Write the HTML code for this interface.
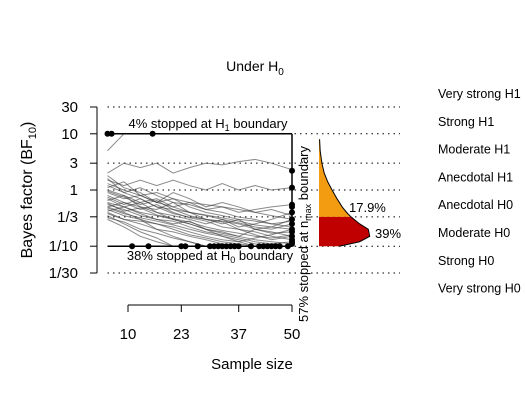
<!DOCTYPE html>
<html><head><meta charset="utf-8"><style>
body{margin:0;background:#fff}
svg text{font-family:"Liberation Sans",Arial,sans-serif;fill:#000}
</style></head><body>
<svg id="c" width="525" height="400">
<text x="255" y="71" font-size="14" text-anchor="middle">Under H<tspan font-size="10" dy="4">0</tspan></text>
<g id="grid"></g><g id="lines"></g><g id="marks"></g><g id="axes"></g><g id="dens"></g><g id="legend"></g>
</svg>
<script>
const yTicks=[30,10,3,1,1/3,1/10,1/30];
const yTickLabels=["30","10","3","1","1/3","1/10","1/30"];
const xTicks=[10,23,37,50];
const nGrid=[5,9,13,17,21,25,29,33,37,41,45,50];
const traj1=[5,10];
const traj2=[2,3,2.5,3,2,2.5,3,2.8,3.2,3.5,3,2.3];
const traj3=[1.5,1.2,1.5,1.2,1.5,1.2,1,1.3,1,1.2,1,1.1];
const traj4=[1,0.8,0.6,0.7,0.5,0.6,0.45,0.5,0.4,0.45,0.5,0.55];
const traj5=[0.8,0.6,0.5,0.4,0.35,0.3,0.25,0.3,0.22,0.25,0.3,0.4];
const traj6=[0.6,0.5,0.4,0.35,0.3,0.25,0.2,0.18,0.15,0.2,0.22,0.3];
const traj7=[0.5,0.4,0.3,0.25,0.22,0.18,0.15,0.13,0.12,0.14,0.16,0.2];
const traj8=[0.4,0.3,0.25,0.2,0.15,0.12,0.1];
const traj9=[0.7,0.5,0.6,0.4,0.3,0.25,0.2,0.15,0.12,0.1];
const traj10=[0.35,0.25,0.18,0.14,0.1];
const traj11=[1.2,0.9,0.7,0.5,0.45,0.35,0.3,0.28,0.25,0.2,0.18,0.15];
const traj12=[0.9,0.7,0.8,0.6,0.5,0.4,0.35,0.3,0.26,0.22,0.2,0.25];
const traj13=[0.3,0.22,0.15,0.12,0.1];
const traj14=[0.45,0.35,0.3,0.2,0.18,0.15,0.13,0.11,0.1];
const traj15=[1.3,1,0.8,0.9,0.7,0.6,0.55,0.5,0.45,0.4,0.35,0.3];
const traj16=[0.55,0.45,0.35,0.3,0.28,0.22,0.18,0.16,0.14,0.12,0.11,0.12];
const traj17=[1.8,1.1,0.9,0.6,0.7,0.5,0.4,0.35,0.3,0.28,0.25,0.22];
const traj18=[0.65,0.8,0.5,0.45,0.6,0.4,0.3,0.25,0.3,0.2,0.17,0.18];
const traj19=[0.5,0.6,0.45,0.55,0.4,0.32,0.28,0.22,0.2,0.16,0.13,0.15];
const traj20=[1.1,1.4,0.8,0.6,0.9,0.7,0.5,0.6,0.5,0.4,0.45,0.35];
const traj21=[0.42,0.5,0.38,0.3,0.25,0.28,0.2,0.17,0.15,0.13,0.12,0.11];
const traj22=[0.75,0.55,0.7,0.5,0.38,0.33,0.3,0.27,0.2,0.18,0.15,0.13];
const traj23=[0.38,0.3,0.28,0.25,0.2,0.16,0.14,0.12,0.11,0.1];
const traj24=[1.6,0.9,1.1,0.8,0.6,0.55,0.45,0.4,0.33,0.3,0.25,0.28];
const traj25=[0.58,0.42,0.48,0.36,0.31,0.27,0.22,0.19,0.17,0.15,0.14,0.16];
const traj26=[0.32,0.27,0.2,0.17,0.14,0.12,0.1];
const traj27=[0.95,0.75,0.55,0.65,0.45,0.4,0.36,0.32,0.28,0.24,0.22,0.2];
const traj28=[0.48,0.38,0.32,0.28,0.24,0.2,0.17,0.15,0.13,0.11,0.1];
const trajs=[traj1,traj2,traj3,traj4,traj5,traj6,traj7,traj8,traj9,traj10,traj11,traj12,traj13,traj14,traj15,traj16,traj17,traj18,traj19,traj20,traj21,traj22,traj23,traj24,traj25,traj26,traj27,traj28];
const stopH1=[5,6,16];
const stopH0=[11,15,23,24,27,30,31,32,33,34,35,36,37,40,42,43,44,45,46,47,49];
const stopNmaxBF=[2.2,1.1,0.55,0.5,0.4,0.3,0.25,0.2,0.18,0.15,0.13,0.12,0.11];
const densBF=[8,5,3,2,1.4,1,0.7,0.5,0.4,1/3,0.25,0.2,0.15,0.12,0.1];
const densVal=[0.02,0.04,0.1,0.18,0.3,0.45,0.62,0.8,0.95,1.1,1.4,1.7,1.75,1.4,0.7];
const pctLabels=["17.9%","39%"];
const legendLabels=["Very strong H1","Strong H1","Moderate H1","Anecdotal H1","Anecdotal H0","Moderate H0","Strong H0","Very strong H0"];
const NS="http://www.w3.org/2000/svg";
function y(v){return 190-56.2*Math.log10(v);}
function x(n){return 128+(n-10)*4.1;}
function mk(tag,attrs,parent,txt){const e=document.createElementNS(NS,tag);for(const k in attrs)e.setAttribute(k,attrs[k]);if(txt!==undefined)e.textContent=txt;document.getElementById(parent).appendChild(e);return e;}
yTicks.forEach((v,i)=>{
 const g=mk('line',{x1:x(5),x2:400,y1:y(v),y2:y(v),stroke:'#000','stroke-dasharray':'1.5,4','stroke-width':1},'grid');
 
 
 const t=mk('line',{x1:90,x2:97,y1:y(v),y2:y(v),stroke:'#000'},'axes');
 
 
 const l=mk('text',{x:78,y:y(v)+5,'font-size':15,'text-anchor':'end'},'axes',yTickLabels[i]);
 
 
});
mk('line',{x1:97,x2:97,y1:y(30),y2:y(1/30),stroke:'#000'},'axes');
const yt=mk('text',{transform:'translate(32,190) rotate(-90)','font-size':16,'text-anchor':'middle'},'axes');
yt.innerHTML='Bayes factor (BF<tspan font-size="11" dy="4">10</tspan><tspan dy="-4">)</tspan>';


mk('line',{x1:x(10),x2:x(50),y1:305,y2:305,stroke:'#000'},'axes');
xTicks.forEach(n=>{
 const t=mk('line',{x1:x(n),x2:x(n),y1:305,y2:312,stroke:'#000'},'axes');
 
 
 const l=mk('text',{x:x(n),y:339,'font-size':15,'text-anchor':'middle'},'axes',String(n));
 
 
});
const xt=mk('text',{x:252,y:369,'font-size':15,'text-anchor':'middle'},'axes','Sample size');


trajs.forEach(tr=>{
 const p=mk('polyline',{points:tr.map((v,i)=>x(nGrid[i])+','+y(Math.min(10,Math.max(0.1,v)))).join(' '),fill:'none',stroke:'rgba(60,60,60,0.6)','stroke-width':1},'lines');
 
 
});
[[x(5),y(10),x(50),y(10)],[x(5),y(0.1),x(50),y(0.1)],[x(50),y(10),x(50),y(0.1)]].forEach(a=>{
 const b=mk('line',{x1:a[0],y1:a[1],x2:a[2],y2:a[3],stroke:'#000','stroke-width':1.5},'marks');
 
 
});
stopH1.forEach(n=>{const c=mk('circle',{cx:x(n),cy:y(10),r:3},'marks');});
stopH0.forEach(n=>{const c=mk('circle',{cx:x(n),cy:y(0.1),r:3},'marks');});
stopNmaxBF.forEach(v=>{const c=mk('circle',{cx:x(50),cy:y(v),r:3},'marks');});
const a1=mk('text',{x:208,y:128,'font-size':13,'text-anchor':'middle'},'marks');
a1.innerHTML='4% stopped at H<tspan font-size="9" dy="3">1</tspan><tspan dy="-3"> boundary</tspan>';


const a0=mk('text',{x:210,y:260,'font-size':13,'text-anchor':'middle'},'marks');
a0.innerHTML='38% stopped at H<tspan font-size="9" dy="3">0</tspan><tspan dy="-3"> boundary</tspan>';


const an=mk('text',{transform:'translate(308,234) rotate(-90)','font-size':13,'text-anchor':'middle'},'marks');
an.innerHTML='57% stopped at n<tspan font-size="9" dy="3">max</tspan><tspan dy="-3"> boundary</tspan>';


const dx=v=>319+v*29;
function area(lo,hi,col,name){
 const pts=[];densBF.forEach((b,i)=>{if(b<=hi+1e-9&&b>=lo-1e-9)pts.push(dx(densVal[i])+','+y(b));});
 const p=mk('polygon',{points:'319,'+y(hi)+' '+pts.join(' ')+' 319,'+y(lo),fill:col},'dens');
 
 
}
area(1/3,8,'#f39c12','density-h1-side');
area(0.1,1/3,'#c00000','density-h0-side');
const dl=mk('polyline',{points:densBF.map((b,i)=>dx(densVal[i])+','+y(b)).join(' '),fill:'none',stroke:'#000','stroke-width':1},'dens');


const p1=mk('text',{x:349,y:212,'font-size':13},'dens',pctLabels[0]);


const p2=mk('text',{x:375,y:238,'font-size':13},'dens',pctLabels[1]);


legendLabels.forEach((s,i)=>{
 const t=mk('text',{x:438,y:98+i*27.8,'font-size':12.5},'legend',s);
 
 
});
</script>
</body></html>
